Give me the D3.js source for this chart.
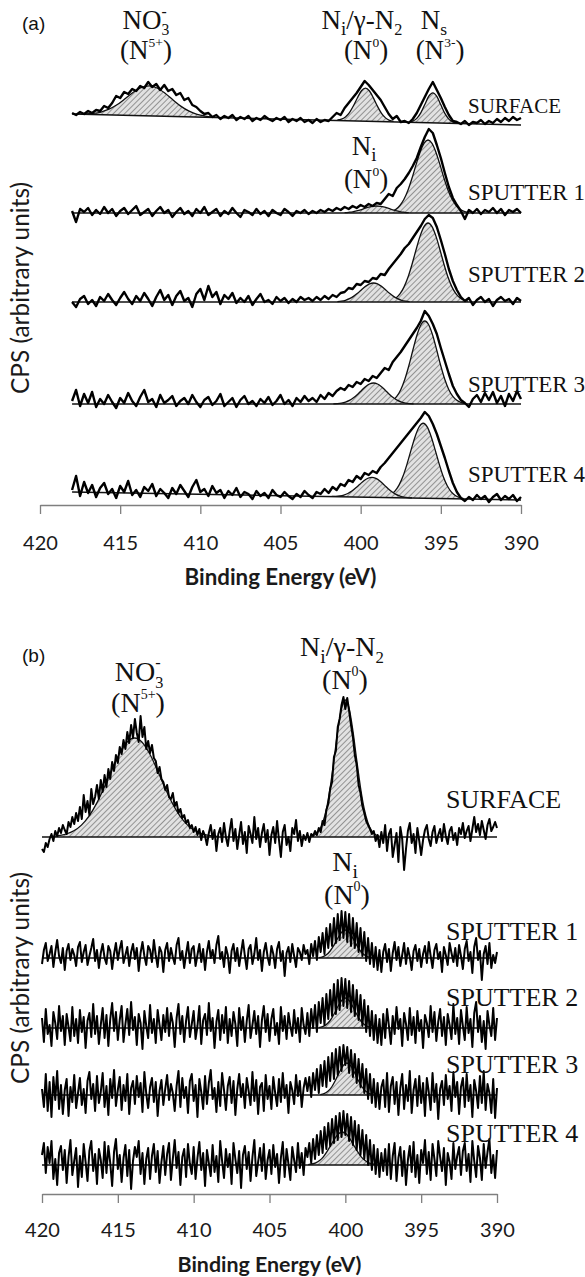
<!DOCTYPE html>
<html><head><meta charset="utf-8">
<script src="https://cdn.jsdelivr.net/npm/d3@7"></script>
<style>body{margin:0;background:#fff}svg{display:block}</style>
</head><body>
<svg id="chart" width="585" height="1277"></svg>
<script>
// ---------------- DATA ----------------
const tickValues = [420, 415, 410, 405, 400, 395, 390];
const traceNames = ["SURFACE", "SPUTTER 1", "SPUTTER 2", "SPUTTER 3", "SPUTTER 4"];
const axisTitle = "Binding Energy (eV)";
const yTitle = "CPS (arbitrary units)";

// Panel (a): energy grid 418 -> 390 eV, step 0.25 eV
const aEnergyStart = 418, aEnergyStep = 0.25;
const aSurface = [12,10,13,11,14,12,15,14,19,17,22,29,27,33,31,36,34,39,37,43,38,41,35,40,34,36,30,32,25,27,20,18,14,11,12,8,10,6,9,7,10,5,8,6,9,4,7,5,9,6,4,7,5,8,3,6,4,7,3,5,2,6,3,5,4,8,12,10,17,22,27,32,38,44,40,35,30,25,18,11,6,9,3,4,2,6,12,20,28,36,43,35,27,18,10,4,3,1,4,0,3,2,5,1,4,2,6,3,7,4,8,5,7];
const aSputter1 = [2,-9,4,1,5,-2,3,-1,6,0,4,-3,2,5,-1,3,7,-2,1,4,-3,2,6,0,3,-4,1,5,-1,2,-3,4,0,6,-2,1,4,-3,2,-1,5,0,-4,3,1,-2,4,-1,2,-3,3,0,-2,4,1,-3,2,0,3,-1,2,0,3,1,4,2,5,3,6,4,7,5,8,6,9,7,10,9,14,19,17,25,29,34,40,47,55,66,76,84,80,68,55,40,26,15,8,2,-6,3,0,4,-1,3,1,5,0,4,-2,3,1,4,0];
const aSputter2 = [0,-5,3,6,-2,2,-4,5,1,8,2,-3,4,10,3,-2,6,1,9,3,-4,5,12,2,7,-3,6,11,1,4,-5,8,13,2,16,5,10,-2,7,3,9,-1,4,0,6,-3,3,8,0,2,-2,5,1,4,-1,3,0,5,2,4,1,5,2,6,3,7,5,9,10,14,13,18,17,21,20,24,23,28,27,33,38,43,48,54,58,64,70,76,83,87,84,75,62,48,33,21,12,5,1,4,-3,2,5,0,3,-4,2,5,1,3,-2,4,1];
const aSputter3 = [3,14,-2,10,1,12,-3,5,0,9,2,-4,6,1,11,3,-2,7,14,2,5,-3,9,1,4,8,-2,3,6,0,9,2,-3,4,7,-1,3,10,-2,2,6,-3,4,8,0,3,-2,5,1,7,-1,3,9,0,4,-2,6,2,8,3,6,2,9,5,11,8,13,16,14,19,17,22,20,25,23,28,26,31,36,34,42,47,52,58,64,70,76,83,93,88,80,70,56,43,30,18,10,4,1,-3,5,9,2,11,4,12,1,8,-2,10,3,13,5];
const aSputter4 = [10,24,4,18,7,15,3,12,17,6,11,2,14,8,19,5,10,3,13,9,16,4,11,7,2,12,6,15,9,3,13,20,8,11,4,14,7,10,2,9,5,12,3,8,6,1,9,4,7,2,10,5,3,8,4,1,6,3,9,5,2,8,6,11,7,13,10,16,14,20,18,24,21,27,25,29,27,33,37,42,47,52,57,62,67,72,77,82,88,84,76,66,54,42,29,17,8,2,-1,3,0,5,1,4,-2,3,6,0,4,1,5,-1,3];
const aOffsets = [380, 292, 203, 101, 5];
const aBgAt418 = [11, 0, 0, 0, 8];
const aBgAt390 = [0, 0, 0, 0, 0];

// Panel (a) fitted components (values above background)
const aFitSurfNO3 = [0.4,1.2,2.7,5.7,10.3,16.5,23.0,28.1,30,28.1,23.0,16.5,10.3,5.7,2.7,1.2,0.4];           // from 417.2 eV, step 0.5
const aFitSurfNi  = [0.5,1.4,3.8,8.2,15.1,23.3,30.3,33,30.3,23.3,15.1,8.2,3.8,1.4,0.5];                   // from 401.45, step 0.25
const aFitSurfNs  = [0.3,1.3,4.1,9.7,18.2,26.5,30,26.5,18.2,9.7,4.1,1.3,0.3];                             // from 397.0, step 0.25
const aFitS1Main  = [0.7,1.7,3.7,7.5,13.7,22.8,34.7,48.1,60.6,69.7,73,69.7,60.6,48.1,34.7,22.8,13.7,7.5,3.7,1.7,0.7]; // from 398.3
const aFitS1Ni    = [0.3,0.7,1.2,2.1,3.2,4.6,5.8,6.7,7,6.7,5.8,4.6,3.2,2.1,1.2,0.7,0.3];                   // from 401.0
const aFitS2Main  = [0.8,1.8,4.0,8.1,14.9,24.7,37.5,52.0,65.6,75.4,79,75.4,65.6,52.0,37.5,24.7,14.9,8.1,4.0,1.8,0.8]; // from 398.3
const aFitS2Ni    = [0.4,0.8,1.7,3.3,5.6,8.7,12.3,15.6,18.1,19,18.1,15.6,12.3,8.7,5.6,3.3,1.7,0.8,0.4];   // from 401.45
const aFitS3Main  = [0.6,1.6,3.7,7.6,14.3,24.5,38.0,53.5,68.3,79.0,83,79.0,68.3,53.5,38.0,24.5,14.3,7.6,3.7,1.6,0.6]; // from 398.5
const aFitS3Ni    = [0.2,0.4,0.9,1.9,3.6,6.2,9.6,13.5,17.3,20.0,21,20.0,17.3,13.5,9.6,6.2,3.6,1.9,0.9,0.4,0.2]; // from 401.7
const aFitS4Main  = [0.6,1.4,3.3,6.9,12.9,22.1,34.4,48.4,61.7,71.4,75,71.4,61.7,48.4,34.4,22.1,12.9,6.9,3.3,1.4,0.6]; // from 398.6
const aFitS4Ni    = [0.2,0.4,0.9,1.8,3.4,5.9,9.2,12.9,16.5,19.0,20,19.0,16.5,12.9,9.2,5.9,3.4,1.8,0.9,0.4,0.2]; // from 401.8

// Panel (b): energy grid 420 -> 390 eV, step 0.125 eV
const bEnergyStart = 420, bEnergyStep = 0.125;
const bSurface = [-12,-15,-6,-10,-2,3,-4,6,1,9,4,12,7,3,15,10,20,13,24,16,
30,18,42,25,36,22,48,33,40,52,38,57,45,62,50,68,58,75,66,82,
74,90,83,97,88,105,94,112,99,118,104,95,121,100,110,88,96,84,92,79,
76,64,70,58,55,47,52,40,38,44,31,35,24,28,19,22,14,17,9,12,
5,10,2,8,-3,6,1,-8,4,12,-2,7,-14,3,9,-5,14,0,-9,6,
18,-4,8,-12,2,15,-7,5,-16,11,3,-6,20,-2,9,-10,4,13,-5,7,
-18,2,10,-6,16,-3,-20,5,12,-8,0,-14,9,3,17,-4,6,-9,2,-3,
4,-5,3,1,6,2,9,5,16,12,27,33,48,55,80,86,110,118,132,140,
128,139,126,112,100,82,72,52,44,31,24,16,12,8,3,6,-4,2,-10,5,
-6,12,-14,3,8,-20,-8,4,-25,10,-2,-33,-12,6,14,-6,3,-16,9,-4,
-18,-3,7,12,-2,-9,5,11,-6,2,8,-4,13,1,-7,6,10,-3,4,-8,
9,3,14,-1,6,11,-4,8,20,5,13,2,16,7,-2,12,18,6,10,15,9];
const bSputter1 = [-6,8,15,-3,4,12,-9,6,18,2,-5,10,-12,7,14,-2,9,3,-8,11,
16,-4,6,13,-7,2,10,19,-3,8,-10,5,14,0,-6,12,7,-11,4,15,
-2,9,17,-5,3,11,-8,6,14,-1,10,-13,5,16,2,-7,12,8,-4,18,
3,-9,11,6,-14,8,15,-3,10,1,-6,13,20,-2,7,-10,4,16,-5,9,
12,-8,3,14,-4,9,-12,6,17,0,8,-5,13,22,-1,6,-9,11,3,-15,
7,14,-3,10,-8,5,18,2,-11,9,13,-6,4,20,-2,8,-13,6,15,1,
-7,12,4,-10,9,16,-3,7,-18,5,11,-4,14,2,-9,10,6,-2,13,4,
8,-6,14,2,17,-2,21,6,25,4,30,10,34,12,40,15,44,18,47,20,
46,16,44,12,40,10,35,6,30,2,26,-3,20,-6,15,-9,11,-12,8,-14,
6,14,-4,9,-13,5,16,-2,11,-8,3,15,-6,10,1,-12,7,13,-3,9,
-9,4,12,-5,16,2,-10,8,14,-1,6,-14,11,3,-7,15,5,-4,10,-8,
13,2,-11,9,17,-3,6,-15,11,20,-2,7,-22,4,12,-6,15,-10,3,-5,6];
const bSputter2 = [10,-14,19,-6,3,-18,16,5,-11,22,-3,12,-17,14,1,-13,21,-8,9,-15,
18,-4,11,-20,7,15,-9,24,-6,12,-16,3,20,-10,13,-18,9,25,-3,16,
-12,8,22,-14,4,19,-7,26,-2,11,-17,14,5,-21,17,2,-10,23,-5,9,
-15,18,3,-12,13,-4,20,-8,15,5,-19,10,24,-6,12,-14,7,21,-9,4,
17,-11,2,22,-16,8,14,-7,25,-3,10,-20,6,18,-12,13,-5,21,-15,9,
-8,16,4,-18,20,-2,11,-14,7,23,-10,3,17,-6,12,-19,8,22,-4,14,
-13,9,19,-7,5,-16,21,-3,12,-11,15,2,-8,18,-5,10,-14,20,3,-6,
15,-8,19,0,23,-4,26,5,30,3,34,9,38,12,44,14,48,18,50,22,
49,20,47,16,43,12,38,8,33,2,28,-4,22,-8,17,-12,13,-15,9,-17,
14,-10,19,2,-16,12,-6,21,-1,9,-18,15,4,-12,20,-7,11,-15,17,-3,
8,-20,13,5,-9,22,-4,16,-13,6,19,-8,11,-17,14,3,-11,24,-6,10,
-16,18,2,-12,21,-5,9,-19,15,26,-4,12,-14,7,-21,17,3,-8,20,-12,10];
const bSputter3 = [6,-12,21,-16,13,-22,18,-5,24,-14,10,-19,5,16,-21,8,-7,20,-13,2,
17,-10,6,-18,14,23,-4,11,-16,19,-8,3,22,-12,9,-20,16,-3,25,-11,
5,18,-15,10,-6,21,-19,7,14,-9,19,-2,12,-17,23,1,-13,8,17,-7,
13,-21,4,15,-10,6,20,-5,11,2,-16,9,24,-12,17,-3,8,-18,14,21,
-6,10,-22,16,3,-14,19,-9,12,25,-4,7,-17,13,-11,22,5,-15,9,18,
-8,14,-20,6,21,-2,11,-13,17,4,-10,23,-6,15,-19,8,12,-16,20,-4,
9,-14,18,2,-11,16,-7,22,-3,10,-18,13,5,-9,20,-1,14,-12,7,17,
4,18,-2,22,5,26,2,30,9,34,8,38,14,42,16,46,20,48,24,50,
30,48,22,45,18,41,12,36,8,31,2,26,-4,21,-8,16,-12,12,-14,8,
15,-12,22,-17,9,18,-9,13,-20,7,21,-14,10,-6,24,-18,5,16,-11,19,
-8,12,-21,17,3,-15,22,-7,11,-24,6,14,-10,20,-4,9,-16,23,-2,13,
-19,8,17,-12,21,-6,10,-22,15,4,-13,19,-8,24,-15,11,2,-18,16,-23,7];
const bSputter4 = [10,22,-8,18,2,24,-14,6,-20,12,19,-5,15,-18,8,25,-10,4,17,-22,
9,-12,21,3,-16,14,24,-6,11,-19,16,5,-13,23,-8,19,2,-21,13,26,
-4,10,-17,7,20,-11,15,-24,4,18,8,24,-9,12,-19,6,17,-14,9,21,
-7,14,-18,3,19,-10,11,22,-15,6,25,-3,13,-20,8,16,-12,21,1,-9,
18,-14,7,23,-5,12,-21,15,2,-11,20,-7,9,-17,24,4,-13,16,-2,11,
-19,22,6,-8,14,-23,10,19,-4,13,-16,8,25,-11,3,17,-6,21,-14,5,
15,-9,20,-2,11,-18,7,23,-12,16,1,-15,18,5,-7,22,-3,12,-10,17,
8,22,2,26,6,30,10,34,12,38,16,42,19,46,22,49,25,52,28,54,
30,51,24,48,20,44,15,40,10,35,6,30,0,25,-5,20,-9,16,-12,12,
-6,16,-10,21,-14,9,22,-16,7,18,-11,14,-20,5,19,-7,23,-12,10,-18,
15,2,25,-9,13,-15,21,6,-11,24,8,-6,17,-20,12,3,-14,22,-4,9,
18,-10,14,22,-6,11,-17,24,4,-12,19,7,-15,21,-3,13,26,-8,10,-13,15];
const bOffsets = [357, 236, 166, 99, 29];

// Panel (b) fitted components
const bFitSurfNO3 = [0.5,1.3,3.0,6.2,11.9,20.9,33.6,49.5,67.1,83.3,94.8,99,94.8,83.3,67.1,49.5,33.6,20.9,11.9,6.2,3.0,1.3,0.5]; // from 419.4, step 0.5
const bFitSurfNi  = [0.8,2.3,6.0,13.8,27.8,49.5,77.1,106.2,128.5,137,128.5,106.2,77.1,49.5,27.8,13.8,6.0,2.3,0.8]; // from 402.25, step 0.25
const bFitS1 = [0.4,1.2,3.2,7.0,12.8,19.8,25.7,28,25.7,19.8,12.8,7.0,3.2,1.2,0.4];  // from 401.75
const bFitS2 = [0.4,1.3,3.4,7.5,13.7,21.2,27.5,30,27.5,21.2,13.7,7.5,3.4,1.3,0.4];  // from 401.75
const bFitS3 = [0.4,1.4,3.7,8.0,14.7,22.6,29.3,32,29.3,22.6,14.7,8.0,3.7,1.4,0.4];  // from 401.65
const bFitS4 = [0.4,1.0,2.2,4.5,8.2,13.6,20.0,26.4,31.2,33,31.2,26.4,20.0,13.6,8.2,4.5,2.2,1.0,0.4]; // from 402.45

// ---------------- TABLES built from the arrays ----------------
const aTraces = [aSurface, aSputter1, aSputter2, aSputter3, aSputter4];
const bTraces = [bSurface, bSputter1, bSputter2, bSputter3, bSputter4];
// [trace index, start energy, step, values]
const aFits = [[0,417.2,0.5,aFitSurfNO3],[0,401.45,0.25,aFitSurfNi],[0,397.0,0.25,aFitSurfNs],
  [1,398.3,0.25,aFitS1Main],[1,401.0,0.25,aFitS1Ni],[2,398.3,0.25,aFitS2Main],[2,401.45,0.25,aFitS2Ni],
  [3,398.5,0.25,aFitS3Main],[3,401.7,0.25,aFitS3Ni],[4,398.6,0.25,aFitS4Main],[4,401.8,0.25,aFitS4Ni]];
const bFits = [[0,419.4,0.5,bFitSurfNO3],[0,402.25,0.25,bFitSurfNi],[1,401.75,0.25,bFitS1],
  [2,401.75,0.25,bFitS2],[3,401.65,0.25,bFitS3],[4,402.45,0.25,bFitS4]];

// ---------------- LAYOUT / STYLE ----------------
const SERIF = "'Liberation Serif','Times New Roman',serif";
const SANS = "Lato,'Open Sans',sans-serif";
const svg = d3.select("#chart");

const defs = svg.append("defs");
const pat = defs.append("pattern").attr("id","hatch").attr("patternUnits","userSpaceOnUse")
  .attr("width",4).attr("height",4).attr("patternTransform","rotate(45)");
pat.append("rect").attr("width",4).attr("height",4).attr("fill","#e2e2e2");
pat.append("line").attr("x1",0).attr("y1",0).attr("x2",0).attr("y2",4).attr("stroke","#333").attr("stroke-width",0.9);

function richText(parent, x, y, parts, size) {
  const t = parent.append("text").attr("x", x).attr("y", y).attr("text-anchor","middle")
    .attr("font-family", SERIF).attr("font-size", size).attr("fill","#111");
  let shift = 0, prev = null;
  parts.forEach(p => {
    const k = p.k || "n";
    const fs = k === "n" ? size : size * (p.s || 0.58);
    const target = k === "sub" ? size * 0.24 : k === "sup" ? -size * 0.45 : 0;
    const ts = t.append("tspan").attr("font-size", fs).attr("dy", target - shift).text(p.t);
    if (p.stack && prev) ts.attr("dx", -prev.node().getComputedTextLength());
    shift = target; prev = ts;
  });
  return t;
}

function drawPanel(cfg) {
  const g = svg.append("g");
  const x = d3.scaleLinear().domain([420, 390]).range([cfg.x0, cfg.x1]);
  const y = d3.scaleLinear().domain([0, 600]).range([cfg.axisY, cfg.axisY - 600]);
  const bg = i => d3.scaleLinear().domain([cfg.eStart, 390]).range([cfg.bgLeft[i], cfg.bgRight[i]]);

  // hatched fit areas + outlines
  cfg.fits.forEach(([ti, e0, step, vals]) => {
    const b = bg(ti), off = cfg.offsets[ti];
    const pts = vals.map((v, k) => ({e: e0 - k * step, v}));
    const area = d3.area().x(d => x(d.e)).y0(d => y(off + b(d.e))).y1(d => y(off + b(d.e) + d.v)).curve(d3.curveMonotoneX);
    const line = d3.line().x(d => x(d.e)).y(d => y(off + b(d.e) + d.v)).curve(d3.curveMonotoneX);
    g.append("path").attr("d", area(pts)).attr("fill", "url(#hatch)");
    g.append("path").attr("d", line(pts)).attr("fill","none").attr("stroke","#111").attr("stroke-width",1.3);
  });
  // background lines
  cfg.traces.forEach((tr, ti) => {
    const b = bg(ti), off = cfg.offsets[ti];
    const e1 = cfg.eStart - (tr.length - 1) * cfg.eStep;
    g.append("line").attr("x1", x(cfg.eStart)).attr("x2", x(e1))
      .attr("y1", y(off + b(cfg.eStart))).attr("y2", y(off + b(e1)))
      .attr("stroke","#111").attr("stroke-width",1.4);
  });
  // measured traces
  cfg.traces.forEach((tr, ti) => {
    const off = cfg.offsets[ti];
    const line = d3.line().x((v, k) => x(cfg.eStart - k * cfg.eStep)).y(v => y(off + v));
    g.append("path").attr("d", line(tr)).attr("fill","none").attr("stroke","#000")
      .attr("stroke-width", cfg.lw).attr("stroke-linejoin","round");
  });
  // trace names
  traceNames.forEach((n, i) => {
    g.append("text").attr("x", cfg.nameX).attr("y", cfg.nameY[i]).text(n)
      .attr("font-family", SERIF).attr("font-size", cfg.nameSize[i]).attr("fill","#111");
  });
  // axis
  const ax = g.append("g").attr("transform", `translate(0,${cfg.axisY})`)
    .call(d3.axisBottom(x).tickValues(tickValues).tickSize(9).tickSizeOuter(0).tickFormat(d3.format("d")));
  ax.select(".domain").attr("stroke","#7f7f7f").attr("stroke-width",1.3);
  ax.selectAll(".tick line").attr("stroke","#7f7f7f").attr("stroke-width",1.3);
  ax.selectAll(".tick text").attr("y", cfg.tickDy).attr("dy", null)
    .attr("font-family", SANS).attr("font-size", 20).attr("fill","#1a1a1a");
  const tt = g.append("text").attr("x", (cfg.x0 + cfg.x1) / 2).attr("y", cfg.titleY).attr("text-anchor","middle")
    .attr("font-family", SANS).attr("font-weight","bold").attr("font-size", 18).attr("fill","#1a1a1a").text(axisTitle);
  tt.attr("font-size", 18 * cfg.titleW / tt.node().getComputedTextLength());
  const yt = g.append("text").attr("transform", `translate(${cfg.ylabX},${cfg.ylabY}) rotate(-90)`)
    .attr("text-anchor","middle").attr("font-family", SANS).attr("font-size", 18).attr("fill","#1a1a1a").text(yTitle);
  yt.attr("font-size", 18 * cfg.ylabLen / yt.node().getComputedTextLength());
  // panel tag
  g.append("text").attr("x", 22).attr("y", cfg.tagY).text(cfg.tag)
    .attr("font-family","'Liberation Sans',Arial,sans-serif").attr("font-size", 19).attr("fill","#111");
  return g;
}

const gA = drawPanel({x0:40, x1:521, axisY:505, eStart:aEnergyStart, eStep:aEnergyStep, traces:aTraces,
  offsets:aOffsets, bgLeft:aBgAt418, bgRight:aBgAt390, fits:aFits, lw:2.4,
  nameX:468, nameY:[113,200,282,392,482], nameSize:[21,23,23,23,23],
  tickDy:45, titleY:585, titleW:192, ylabX:29, ylabY:288, ylabLen:212, tag:"(a)", tagY:30});

const gB = drawPanel({x0:42, x1:497, axisY:1194, eStart:bEnergyStart, eStep:bEnergyStep, traces:bTraces,
  offsets:bOffsets, bgLeft:[0,0,0,0,0], bgRight:[0,0,0,0,0], fits:bFits, lw:2.0,
  nameX:446, nameY:[808,940,1006,1073,1142], nameSize:[26,26,26,26,26],
  tickDy:43, titleY:1272, titleW:184, ylabX:29, ylabY:978, ylabLen:212, tag:"(b)", tagY:662});

// peak annotations
const NO3 = [{t:"NO"},{t:"-",k:"sup"},{t:"3",k:"sub",stack:true}];
const N5 = [{t:"(N"},{t:"5+",k:"sup",s:0.5},{t:")"}];
const NiG = [{t:"N"},{t:"i",k:"sub",s:0.7},{t:"/γ-N"},{t:"2",k:"sub",s:0.6}];
const N0 = [{t:"(N"},{t:"0",k:"sup",s:0.5},{t:")"}];
const Ns = [{t:"N"},{t:"s",k:"sub",s:0.65}];
const N3 = [{t:"(N"},{t:"3-",k:"sup",s:0.5},{t:")"}];
const Ni = [{t:"N"},{t:"i",k:"sub",s:0.7}];

richText(gA, 146, 29, NO3, 27);
richText(gA, 146, 59, N5, 27);
richText(gA, 362, 29, NiG, 27);
richText(gA, 366, 59, N0, 27);
richText(gA, 434, 29, Ns, 27);
richText(gA, 440, 59, N3, 27);
richText(gA, 364, 155, Ni, 27);
richText(gA, 366, 188, N0, 27);

richText(gB, 139, 681, NO3, 28);
richText(gB, 138, 712, N5, 28);
richText(gB, 342, 656, NiG, 28);
richText(gB, 345, 689, N0, 28);
richText(gB, 345, 871, Ni, 28);
richText(gB, 347, 904, N0, 28);
</script>
</body></html>
